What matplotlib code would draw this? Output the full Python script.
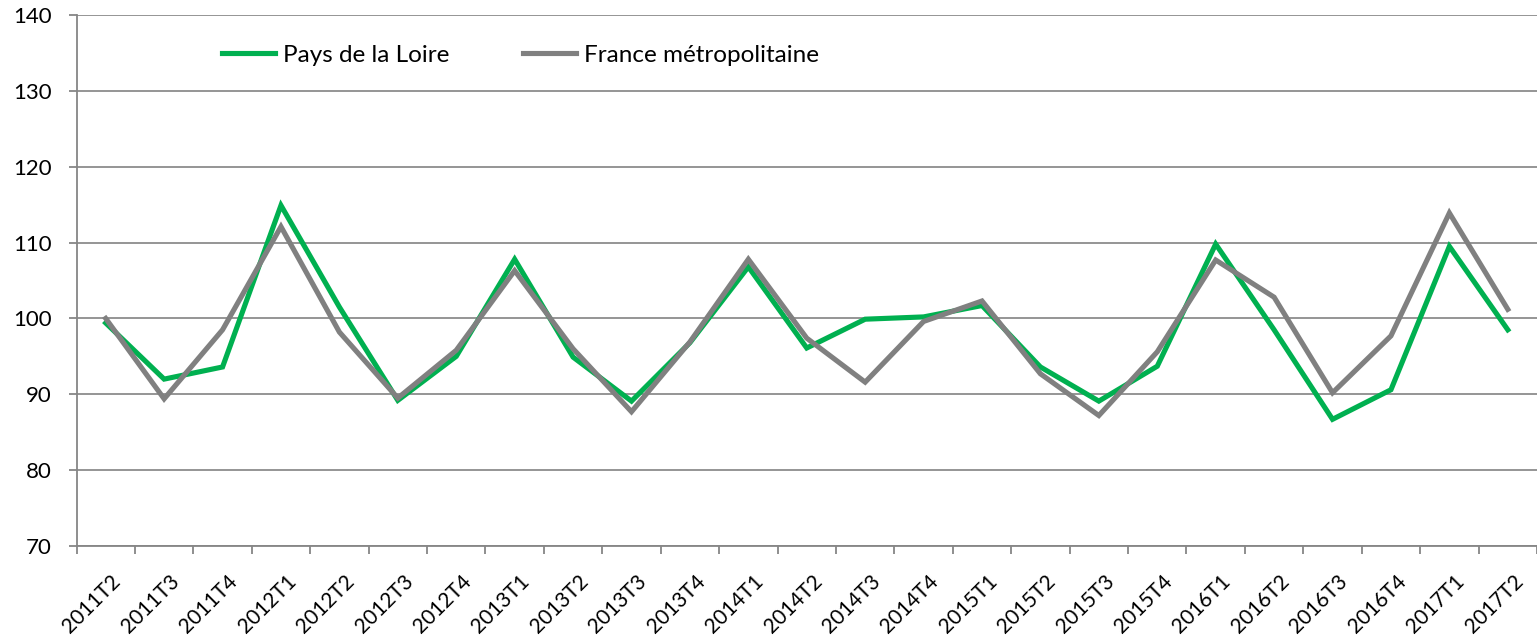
import matplotlib
matplotlib.use("Agg")
import matplotlib.pyplot as plt
from matplotlib.ticker import FixedLocator, MultipleLocator
from matplotlib.transforms import ScaledTranslation

categories = ["2011T2", "2011T3", "2011T4", "2012T1", "2012T2", "2012T3", "2012T4",
              "2013T1", "2013T2", "2013T3", "2013T4", "2014T1", "2014T2", "2014T3",
              "2014T4", "2015T1", "2015T2", "2015T3", "2015T4", "2016T1", "2016T2",
              "2016T3", "2016T4", "2017T1", "2017T2"]
pays_de_la_loire = [99.4, 92.0, 93.6, 114.9, 101.5, 89.2, 95.0, 107.8, 94.9, 89.1, 96.8,
                    106.8, 96.1, 99.9, 100.2, 101.7, 93.6, 89.1, 93.7, 109.8, 98.5,
                    86.7, 90.6, 109.5, 98.5]
france_metro = [100.0, 89.4, 98.5, 112.1, 98.2, 89.5, 95.8, 106.3, 96.0, 87.7, 96.9,
                107.8, 97.4, 91.6, 99.6, 102.3, 92.7, 87.2, 95.6, 107.7, 102.8,
                90.2, 97.7, 113.9, 101.2]
series_names = ["Pays de la Loire", "France métropolitaine"]

plt.rcParams['font.family'] = ['Lato', 'DejaVu Sans']

fig = plt.figure(figsize=(15.37, 6.38), dpi=100)
ax = fig.add_axes([76.5 / 1537, 1 - 546 / 638, 1 - 76.5 / 1537, (546 - 15) / 638])

x = list(range(len(categories)))
ax.plot(x, pays_de_la_loire, color="#00B050", lw=3.7, label=series_names[0], solid_joinstyle='miter')
ax.plot(x, france_metro, color="#808080", lw=3.7, label=series_names[1], solid_joinstyle='miter')

ax.set_xlim(-0.5, len(categories) - 0.5)
ax.set_ylim(70, 140)
ax.yaxis.set_major_locator(MultipleLocator(10))
ax.grid(axis='y', color="#8c8c8c", lw=1.3)
ax.set_axisbelow(True)

for s in ["right", "top"]:
    ax.spines[s].set_visible(False)
for s in ["left", "bottom"]:
    ax.spines[s].set_color("#868686")
    ax.spines[s].set_linewidth(1.3)

ax.set_xticks(x)
ax.set_xticklabels(categories, rotation=45, ha='right', va='top', rotation_mode='anchor', fontsize=15)
ax.tick_params(axis='x', which='major', length=0, pad=18)
offset = ScaledTranslation(5 / 100, 0, fig.dpi_scale_trans)
for lab in ax.get_xticklabels():
    lab.set_transform(lab.get_transform() + offset)
ax.xaxis.set_minor_locator(FixedLocator([i - 0.5 for i in range(len(categories) + 1)]))
ax.tick_params(axis='x', which='minor', length=6, color="#868686", width=1.3)
ax.tick_params(axis='y', length=6, color="#868686", width=1.3, labelsize=16, pad=12)

leg = ax.legend(loc='center left', bbox_to_anchor=((222 - 76.5) / 1460.5, (546 - 55) / 531),
                ncol=2, frameon=False, borderaxespad=0, borderpad=0,
                fontsize=17.5, handlelength=2.2, handletextpad=0.33, columnspacing=3.0)

fig.savefig("out.png", dpi=100)
